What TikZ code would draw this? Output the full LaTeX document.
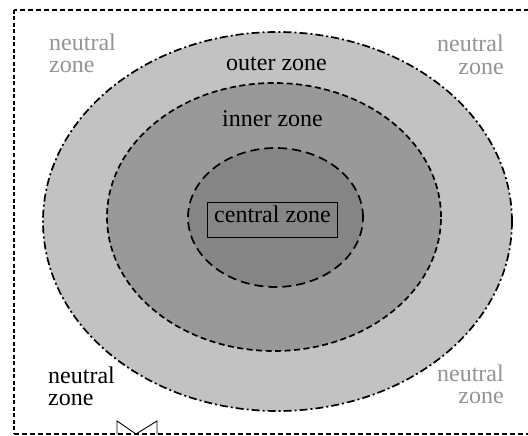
\documentclass[tikz,border=0pt]{standalone}
\usepackage{fontspec}
\setmainfont{Liberation Serif}
\usetikzlibrary{shapes.geometric}
\definecolor{outerfill}{gray}{0.76}
\definecolor{innerfill}{gray}{0.60}
\definecolor{centralfill}{gray}{0.52}
\definecolor{neutralgray}{gray}{0.58}
\tikzset{
  zone/.style={ellipse, inner sep=0pt, line width=1.7pt},
  label/.style={font=\fontsize{24}{22}\selectfont, inner sep=0pt},
  neutral/.style={label, text=neutralgray},
  border/.style={line width=1.6pt, dash pattern=on 5pt off 3pt}
}
\begin{document}
\begin{tikzpicture}[x=1pt,y=-1pt]
\useasboundingbox (0,0) rectangle (528,436);
\fill[white] (0,0) rectangle (528,436);
% frame
\coordinate (ftr) at (529,10);
\coordinate (ftl) at (14,10);
\coordinate (fbl) at (14,434);
\coordinate (fbr) at (529,434);
\draw[border] (ftr) -- (ftl);
\draw[line width=1.6pt, dash pattern=on 4pt off 2.5pt] (ftl) -- (fbl);
\draw[border] (fbl) -- (fbr);
% zones
\node[zone, draw, fill=outerfill, dash pattern=on 8pt off 3pt on 2pt off 3pt,
  minimum width=469pt, minimum height=379pt] (outer) at (277.5,221.5) {};
\node[zone, draw, fill=innerfill, dash pattern=on 6pt off 3.5pt,
  minimum width=334pt, minimum height=268pt] (inner) at (274,217) {};
\node[zone, draw, fill=centralfill, dash pattern=on 9pt off 5pt,
  minimum width=175pt, minimum height=139pt] (central) at (275.5,217.5) {};
\node[label, draw, line width=0.9pt, inner xsep=7pt, inner ysep=0pt,
  text height=20pt, text depth=15pt, anchor=base] (cbox) at (272.5,222) {central zone};
\node[label, anchor=base] (outerlbl) at (276.5,71) {outer zone};
\node[label, anchor=base] (innerlbl) at (272.5,126) {inner zone};
% neutral labels (base = last line)
\node[neutral, align=left, anchor=base west] (ntl) at (49,73) {neutral\\zone};
\node[neutral, align=right, anchor=base east, font=\fontsize{24}{24}\selectfont] (ntr) at (504,75) {neutral\\zone};
\node[label, align=left, anchor=base west] (nbl) at (48,405) {neutral\\zone};
\node[neutral, align=right, anchor=base east] (nbr) at (504,403) {neutral\\zone};
% bowtie mark
\coordinate (b1) at (117,434);
\coordinate (b2) at (117,421);
\coordinate (b3) at (136,434);
\coordinate (b4) at (157,421);
\coordinate (b5) at (157,434);
\draw[line width=0.9pt] (b1) -- (b2) -- (b3) -- (b4) -- (b5);
\end{tikzpicture}
\end{document}
